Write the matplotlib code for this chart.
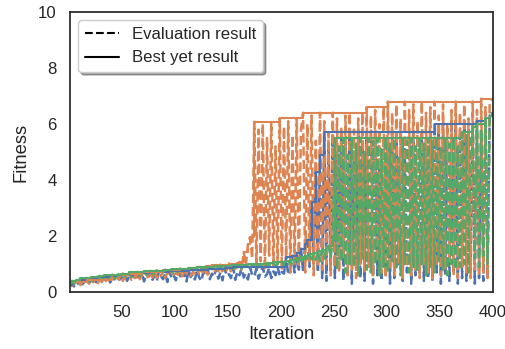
import matplotlib
matplotlib.use("Agg")
import matplotlib.pyplot as plt
import seaborn as sns
from matplotlib.lines import Line2D

sns.set_theme(style="white", context="notebook", font_scale=1.1)
plt.rcParams['font.family'] = ['Liberation Sans', 'DejaVu Sans']

# iterations at which evaluations are sampled
iterations = list(range(1, 401, 2))

orange_eval = [
    0.30, 0.22, 0.35, 0.28, 0.40, 0.25, 0.38, 0.32, 0.45, 0.30,
    0.42, 0.35, 0.50, 0.28, 0.45, 0.38, 0.55, 0.40, 0.48, 0.36,
    0.60, 0.42, 0.52, 0.45, 0.62, 0.40, 0.55, 0.48, 0.66, 0.44,
    0.58, 0.50, 0.70, 0.46, 0.62, 0.55, 0.72, 0.48, 0.64, 0.52,
    0.75, 0.50, 0.66, 0.58, 0.78, 0.52, 0.70, 0.60, 0.80, 0.55,
    0.68, 0.62, 0.82, 0.56, 0.74, 0.64, 0.85, 0.58, 0.72, 0.66,
    0.88, 0.60, 0.78, 0.70, 0.92, 0.62, 0.80, 0.96, 0.68, 0.84,
    0.74, 0.98, 0.66, 0.86, 0.78, 1.02, 0.70, 0.90, 0.82, 1.05,
    1.07, 0.80, 1.43, 0.95, 1.70, 1.96, 1.20, 6.07, 0.9, 5.8,
    1.1, 6.0, 0.8, 5.5, 1.3, 6.07, 0.9, 5.2, 1.0, 6.2,
    0.8, 5.9, 1.2, 6.1, 0.7, 5.6, 1.0, 6.2, 0.9, 5.8,
    6.4, 0.7, 6.0, 1.1, 6.3, 0.6, 5.4, 0.9, 6.4, 0.8,
    6.1, 1.0, 5.7, 0.6, 6.4, 0.9, 6.2, 0.7, 5.9, 1.2,
    6.3, 0.6, 6.4, 0.8, 5.8, 0.5, 6.2, 1.0, 6.4, 0.7,
    6.6, 0.9, 6.3, 0.6, 6.5, 1.1, 6.0, 0.7, 6.6, 0.5,
    6.8, 0.8, 6.4, 0.6, 6.7, 1.0, 6.2, 0.5, 6.8, 0.9,
    6.5, 0.6, 6.7, 0.8, 6.1, 0.5, 6.8, 1.0, 6.4, 0.7,
    6.6, 0.5, 6.8, 0.9, 6.3, 0.6, 6.7, 0.8, 6.0, 1.1,
    6.5, 0.6, 6.8, 0.5, 6.4, 0.9, 6.7, 0.7, 6.2, 0.5,
    6.8, 0.8, 6.5, 0.6, 6.9, 0.7, 6.6, 0.5, 6.8, 6.9,
]

blue_eval = [
    0.25, 0.35, 0.20, 0.40, 0.30, 0.45, 0.28, 0.38, 0.50, 0.32,
    0.42, 0.48, 0.30, 0.55, 0.40, 0.36, 0.50, 0.44, 0.58, 0.34,
    0.52, 0.45, 0.60, 0.38, 0.55, 0.48, 0.62, 0.40, 0.56, 0.50,
    0.65, 0.42, 0.58, 0.52, 0.68, 0.38, 0.60, 0.54, 0.70, 0.44,
    0.62, 0.40, 0.72, 0.56, 0.46, 0.66, 0.36, 0.74, 0.50, 0.60,
    0.42, 0.76, 0.58, 0.48, 0.70, 0.38, 0.78, 0.54, 0.64, 0.45,
    0.80, 0.52, 0.40, 0.72, 0.60, 0.82, 0.46, 0.66, 0.55, 0.84,
    0.48, 0.70, 0.42, 0.86, 0.58, 0.64, 0.50, 0.88, 0.44, 0.72,
    0.60, 0.86, 0.52, 0.66, 0.45, 0.88, 0.62, 0.56, 0.84, 0.48,
    0.70, 0.90, 0.55, 0.64, 0.86, 0.50, 0.74, 0.60, 0.90, 0.58,
    0.72, 0.66, 1.25, 0.62, 0.85, 1.30, 0.70, 1.40, 0.80, 1.55,
    0.75, 1.70, 1.86, 0.90, 3.2, 1.1, 4.3, 0.7, 4.9, 0.5,
    5.7, 0.4, 5.3, 0.9, 5.6, 0.5, 5.0, 1.2, 5.7, 0.4,
    5.4, 0.7, 5.6, 0.3, 4.8, 0.9, 5.7, 0.5, 5.2, 0.4,
    5.6, 1.0, 5.5, 0.3, 5.7, 0.6, 4.6, 0.4, 5.6, 0.8,
    5.3, 0.3, 5.7, 0.5, 5.5, 0.9, 5.7, 0.4, 5.1, 0.7,
    5.6, 0.3, 5.7, 0.6, 5.4, 0.8, 5.7, 0.4, 5.2, 0.5,
    5.7, 0.4, 6.0, 0.7, 5.8, 0.3, 6.0, 0.6, 5.4, 0.4,
    5.9, 0.8, 6.0, 0.3, 5.6, 0.5, 6.0, 0.4, 5.8, 0.7,
    6.0, 0.3, 6.1, 0.5, 5.7, 0.4, 6.2, 0.6, 6.3, 6.4,
]

green_eval = [
    0.32, 0.40, 0.28, 0.45, 0.36, 0.50, 0.34, 0.42, 0.48, 0.38,
    0.55, 0.40, 0.52, 0.46, 0.58, 0.44, 0.50, 0.60, 0.48, 0.56,
    0.62, 0.48, 0.58, 0.64, 0.52, 0.66, 0.56, 0.60, 0.70, 0.54,
    0.68, 0.60, 0.72, 0.58, 0.66, 0.74, 0.62, 0.70, 0.76, 0.60,
    0.72, 0.78, 0.64, 0.74, 0.70, 0.80, 0.66, 0.76, 0.82, 0.68,
    0.78, 0.72, 0.84, 0.70, 0.80, 0.76, 0.86, 0.72, 0.82, 0.78,
    0.88, 0.74, 0.84, 0.80, 0.90, 0.76, 0.86, 0.82, 0.92, 0.78,
    0.88, 0.84, 0.94, 0.80, 0.90, 0.86, 0.96, 0.82, 0.92, 0.88,
    0.98, 0.84, 0.94, 0.90, 1.00, 0.86, 0.96, 0.92, 1.02, 0.88,
    0.98, 0.94, 1.04, 0.90, 1.00, 0.96, 1.06, 0.92, 1.02, 0.98,
    1.08, 0.94, 1.10, 1.00, 1.14, 0.96, 1.10, 1.20, 1.02, 1.26,
    1.05, 1.30, 1.12, 1.36, 1.08, 1.40, 1.15, 1.46, 1.10, 1.50,
    1.20, 1.58, 1.65, 1.25, 1.86, 5.5, 0.8, 5.2, 1.1, 5.5,
    0.7, 4.9, 1.0, 5.5, 0.9, 5.3, 0.6, 5.5, 1.2, 5.0,
    0.8, 5.5, 0.7, 5.4, 1.0, 5.5, 0.6, 5.1, 0.9, 5.5,
    0.7, 5.3, 1.1, 5.5, 0.8, 4.8, 0.6, 5.5, 1.0, 5.4,
    0.7, 5.5, 0.9, 5.2, 0.8, 5.5, 1.0, 5.3, 0.6, 5.5,
    0.9, 5.4, 0.7, 5.5, 1.1, 5.2, 0.8, 5.5, 0.6, 5.3,
    1.0, 5.5, 0.8, 5.2, 0.9, 5.7, 1.0, 5.6, 0.7, 5.5,
    5.9, 1.2, 6.0, 0.9, 5.8, 1.3, 6.2, 1.0, 6.3, 6.4,
]

# best-yet (step) series
orange_best_x = [1, 17, 41, 57, 69, 89, 105, 113, 121, 129, 135, 143, 151, 159,
                 161, 165, 169, 171, 175, 199, 221, 281, 301, 389, 400]
orange_best_y = [0.35, 0.45, 0.60, 0.66, 0.72, 0.78, 0.82, 0.85, 0.88, 0.92, 0.96, 0.98, 1.02, 1.05,
                 1.07, 1.43, 1.70, 1.96, 6.07, 6.2, 6.4, 6.6, 6.8, 6.9, 6.9]

blue_best_x = [1, 3, 7, 11, 17, 27, 37, 45, 53, 61, 69, 77, 85, 95, 103, 113, 121, 131, 139,
               147, 155, 191, 205, 211, 215, 219, 223, 225, 229, 233, 237, 241, 345, 385,
               393, 397, 399, 400]
blue_best_y = [0.25, 0.35, 0.40, 0.45, 0.50, 0.55, 0.58, 0.60, 0.62, 0.65, 0.68, 0.70, 0.72, 0.74,
               0.76, 0.78, 0.80, 0.82, 0.84, 0.86, 0.88, 0.90, 1.25, 1.30, 1.40, 1.55, 1.70,
               1.86, 3.2, 4.3, 4.9, 5.7, 6.0, 6.1, 6.2, 6.3, 6.4, 6.4]

green_best_x = [1, 3, 7, 11, 21, 29, 33, 41, 49, 57, 67, 71, 77, 91, 97, 103, 113, 121, 129,
                137, 145, 153, 161, 169, 177, 187, 193, 201, 205, 209, 215, 219, 223, 227,
                231, 235, 239, 243, 245, 249, 251, 371, 381, 385, 393, 397, 399, 400]
green_best_y = [0.32, 0.40, 0.45, 0.50, 0.55, 0.58, 0.60, 0.62, 0.66, 0.70, 0.72, 0.74, 0.76,
                0.80, 0.82, 0.84, 0.86, 0.88, 0.90, 0.92, 0.94, 0.96, 0.98, 1.00, 1.02, 1.04,
                1.06, 1.08, 1.10, 1.14, 1.20, 1.26, 1.30, 1.36, 1.40, 1.46, 1.50, 1.58, 1.65,
                1.86, 5.5, 5.7, 5.9, 6.0, 6.2, 6.3, 6.4, 6.4]

palette = sns.color_palette("deep")
c_blue, c_orange, c_green = palette[0], palette[1], palette[2]

fig = plt.figure(figsize=(5.06, 3.49), dpi=100)
ax = fig.add_axes([0.138, 0.163, 0.836, 0.803])

lw = 1.5
elw = 1.8
ax.plot(iterations, blue_eval, ls='--', color=c_blue, lw=elw)
ax.plot(iterations, orange_eval, ls='--', color=c_orange, lw=elw)
ax.plot(iterations, green_eval, ls='--', color=c_green, lw=elw)
ax.plot(blue_best_x, blue_best_y, ls='-', color=c_blue, lw=lw, drawstyle='steps-post')
ax.plot(orange_best_x, orange_best_y, ls='-', color=c_orange, lw=lw, drawstyle='steps-post')
ax.plot(green_best_x, green_best_y, ls='-', color=c_green, lw=lw, drawstyle='steps-post')

ax.set_xlim(1, 400)
ax.set_ylim(0, 10)
ax.set_xticks([50, 100, 150, 200, 250, 300, 350, 400])
ax.set_yticks([0, 2, 4, 6, 8, 10])
ax.set_xlabel("Iteration")
ax.set_ylabel("Fitness", labelpad=6)
for s in ax.spines.values():
    s.set_color('0.15')
    s.set_linewidth(1.25)

handles = [Line2D([0], [0], color='black', ls='--', lw=lw),
           Line2D([0], [0], color='black', ls='-', lw=lw)]
ax.legend(handles, ["Evaluation result", "Best yet result"], loc='upper left',
          frameon=True, shadow=True, fancybox=True)

fig.savefig("out.png", dpi=100)
